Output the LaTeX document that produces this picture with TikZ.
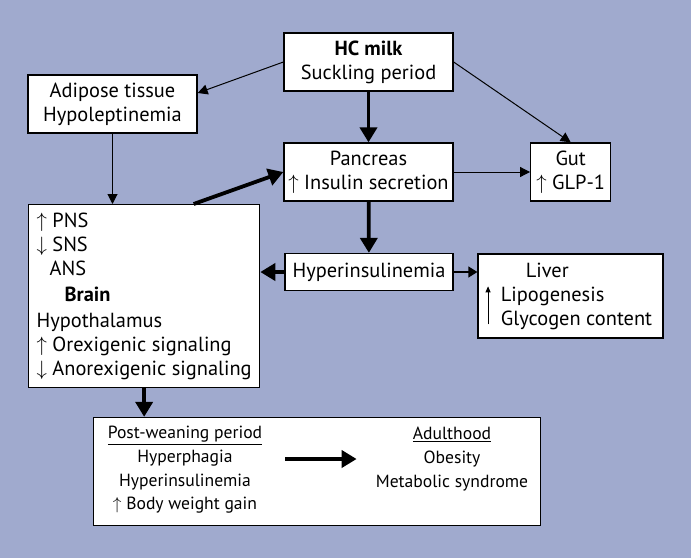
\documentclass[tikz,border=0pt]{standalone}
\usepackage{fontspec}
\setmainfont{PT Sans}
\usetikzlibrary{arrows.meta}
\definecolor{bgblue}{RGB}{160,170,206}
\begin{document}
\begin{tikzpicture}[x=1pt, y=-1pt,
    box/.style={draw, fill=white, line width=1.3pt, inner sep=0pt, align=center,
                font=\fontsize{20.4}{24}\selectfont},
    plain/.style={inner sep=0pt, align=center, font=\fontsize{17.6}{23.6}\selectfont},
    lightarrow/.style={line width=1pt, -{Triangle[length=10pt, width=10pt]}},
    heavyarrow/.style={line width=3.8pt, -{Triangle[length=15pt, width=17pt]}}]
  \fill[bgblue] (0,0) rectangle (691,558);
  \useasboundingbox (0,0) rectangle (691,558);

  \node[box, minimum width=169pt, minimum height=58pt] (milk) at (368.5,62) {\textbf{HC milk}\\Suckling period};
  \node[box, minimum width=169pt, minimum height=58pt] (adipose) at (112.5,104) {Adipose tissue\\Hypoleptinemia};
  \node[box, minimum width=169pt, minimum height=58pt] (pancreas) at (368.5,172) {Pancreas\\$\uparrow$ Insulin secretion};
  \node[box, minimum width=80pt, minimum height=58pt] (gut) at (570.7,172) {Gut\\$\uparrow$ GLP-1};
  \node[box, minimum width=168pt, minimum height=37pt] (hyper) at (369,272) {Hyperinsulinemia};
  \node[box, minimum width=185pt, minimum height=84pt, align=left] (liver) at (570.5,296)
    {\hspace*{37pt}Liver\\
     \hspace*{12pt}Lipogenesis\\
     \hspace*{12pt}Glycogen content};
  \node[box, anchor=north west, minimum width=231pt, minimum height=183pt, align=left] (brain) at (28,204)
    {$\uparrow$ PNS\\
     $\downarrow$ SNS\\
     \hspace*{13pt}ANS\\[2pt]
     \hspace*{28pt}\textbf{Brain}\\[2pt]
     Hypothalamus\\
     $\uparrow$ Orexigenic signaling\\
     $\downarrow$ Anorexigenic signaling};
  \node[box, minimum width=447pt, minimum height=108pt] (later) at (316.7,471.5) {};
  \node[plain] (postw) at (185,470) {\underline{Post-weaning period}\\Hyperphagia\\Hyperinsulinemia\\$\uparrow$ Body weight gain};
  \node[plain] (adult) at (452,459) {\underline{Adulthood}\\Obesity\\Metabolic syndrome};

  % tall arrow in the liver box
  \draw[line width=0.8pt, -{Triangle[length=6pt, width=5pt]}]
    ([xshift=10.7pt, yshift=-71pt]liver.north west) -- ([xshift=10.7pt, yshift=-33pt]liver.north west);

  \draw[lightarrow] (milk.west) -- ([yshift=11pt]adipose.east);
  \draw[lightarrow] (milk.east) -- (gut.north);
  \draw[heavyarrow] (milk) -- (pancreas);
  \draw[lightarrow] (pancreas) -- (gut);
  \draw[lightarrow] (adipose) -- (adipose |- brain.north);
  \draw[heavyarrow] ([xshift=49.5pt]brain.north) -- (pancreas.west);
  \draw[heavyarrow] (pancreas) -- (hyper);
  \draw[heavyarrow] (hyper) -- (hyper -| brain.east);
  \draw[line width=1.4pt, -{Triangle[length=9pt, width=11pt]}] (hyper) -- (hyper -| liver.west);
  \draw[heavyarrow] (brain) -- (brain |- later.north);
  \draw[heavyarrow] ([xshift=23pt]postw.east |- adult.west) -- ([xshift=-19pt]adult.west);
\end{tikzpicture}
\end{document}
